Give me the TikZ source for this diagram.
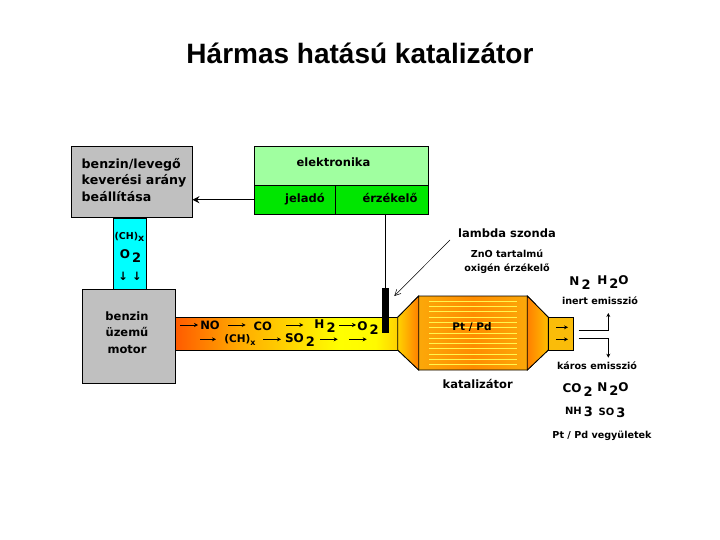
\documentclass[tikz,border=0pt]{standalone}
\usepackage{fontspec}
\setmainfont[UprightFont=* Bold]{DejaVu Sans}
\newfontfamily\titlefont{Liberation Sans}
\usetikzlibrary{arrows.meta}
\definecolor{boxgray}{RGB}{192,192,192}
\definecolor{cyanfill}{RGB}{0,255,255}
\definecolor{lightgreen}{RGB}{160,255,160}
\definecolor{puregreen}{RGB}{0,230,0}
\pgfdeclarehorizontalshading{pipeshade}{100bp}{
  rgb(0bp)=(1,0.36,0); rgb(25bp)=(1,0.36,0); rgb(40bp)=(1,0.68,0);
  rgb(62bp)=(1,1,0); rgb(70bp)=(1,0.98,0); rgb(75bp)=(1,0.82,0); rgb(100bp)=(1,0.82,0)}
\pgfdeclarehorizontalshading{mainshade}{100bp}{
  rgb(0bp)=(0.98,0.70,0.05); rgb(25bp)=(0.98,0.70,0.05); rgb(50bp)=(1,0.55,0);
  rgb(75bp)=(0.98,0.70,0.05); rgb(100bp)=(0.98,0.70,0.05)}
\newcommand{\dnum}[1]{\raisebox{-0.5ex}{\kern2pt\fontsize{13}{13}\selectfont #1}}
\tikzset{
  x=1pt,y=-1pt,
  panel/.style={draw=black,line width=0.8pt},
  lbl/.style={font=\fontsize{11.5}{14}\selectfont,inner sep=0pt,align=center},
  big/.style={font=\fontsize{12}{15}\selectfont,inner sep=0pt,align=center},
  small/.style={font=\fontsize{9.6}{13}\selectfont,inner sep=0pt,align=center},
  heavy/.style={line width=1.5pt,-{Stealth[length=7pt,width=7pt]}},
  flow/.style={line width=0.9pt,-{Stealth[length=4pt,width=4pt]}},
  fine/.style={line width=0.5pt,-{Straight Barb[length=6pt,width=6pt]}},
  plainline/.style={line width=0.9pt},
}
\begin{document}
\begin{tikzpicture}
\useasboundingbox (0,0) rectangle (720,540);
\fill[white] (0,0) rectangle (720,540);
\node[inner sep=0pt,font=\titlefont\bfseries\fontsize{28}{32}\selectfont] (title) at (360,53) {Hármas hatású katalizátor};

% cyan duct, then grey boxes
\draw[panel,fill=cyanfill] (113.5,218) rectangle (146.5,290);
\node[panel,fill=boxgray,minimum width=121pt,minimum height=71pt,inner sep=0pt] (mix) at (131.5,181.5) {};
\node[big,anchor=west,font=\fontsize{12.6}{16.5}\selectfont,align=left] (mixt) at (81.5,180) {benzin/levegő\\keverési arány\\beállítása};
\node[panel,fill=boxgray,minimum width=93pt,minimum height=94pt,inner sep=0pt] (motor) at (129.2,336.3) {};
\node[lbl,font=\fontsize{11.5}{16.5}\selectfont] (motort) at (127,332.5) {benzin\\üzemű\\motor};
\node[lbl,font=\fontsize{9.5}{12}\selectfont] (chx) at (129.5,237) {(CH)\raisebox{-0.4ex}{x}};
\node[big] (o2a) at (130.5,256) {O\dnum{2}};
\node[lbl] (arrs) at (130,276) {↓ ↓};

% electronics
\node[panel,fill=lightgreen,minimum width=174.4pt,minimum height=38.6pt,inner sep=0pt] (elec) at (341.5,166) {};
\node[panel,fill=puregreen,minimum width=81pt,minimum height=28.7pt,inner sep=0pt] (jel) at (294.8,199.7) {};
\node[panel,fill=puregreen,minimum width=93.4pt,minimum height=28.7pt,inner sep=0pt] (erz) at (382,199.7) {};
\node[lbl] at (333.5,162) (elect) {elektronika};
\node[lbl] at (305,199) (jelt) {jeladó};
\node[lbl] at (390,198) (erzt) {érzékelő};
\draw[heavy] (jel.west) -- (jel.west -| mix.east);
\coordinate (probetop) at (385.5,288);
\draw[plainline] (385.5,214) -- (probetop);

% exhaust
\node[panel,fill=none,minimum width=222pt,minimum height=33pt,inner sep=0pt,shading=pipeshade,shading angle=0] (pipe) at (286.7,333.7) {};
\draw[panel,shading=mainshade,shading angle=0] (397.7,317.3) -- (418.7,296) -- (527.3,296) -- (548.3,317.3) -- (548.3,350) -- (527.3,370) -- (418.7,370) -- (397.7,350) -- cycle;
\draw[panel,left color=yellow!65!orange,right color=orange] (397.7,317.3) -- (418.7,296) -- (418.7,370) -- (397.7,350) -- cycle;
\draw[panel,left color=orange,right color=yellow!50!orange] (527.3,296) -- (548.3,317.3) -- (548.3,350) -- (527.3,370) -- cycle;
\foreach \yy in {301,306.3,311.6,316.9,322.2,327.5,332.8,338.1,343.4,348.7,354,359.3,364.6}
  \draw[yellow!70!white,line width=0.5pt] (429,\yy) -- (517,\yy);
\node[panel,fill=yellow!50!orange,minimum width=25.4pt,minimum height=32.7pt,inner sep=0pt] (out) at (561,333.7) {};
\node[draw=none,fill=black,minimum width=7pt,minimum height=44.7pt,inner sep=0pt] (probe) at (385.5,310.4) {};

\foreach \n/\xa/\xb/\yy in {a/180/198/325,b/228/245.7/325,c/286/303.3/325,d/339/356/325,e/200/216/339.3,f/263.3/281/339.3,g/320/337.7/339.3,h/349.3/366.7/339.3,i/556/568/327.3,j/556/568/339.3}{
  \coordinate (s\n) at (\xa,\yy);
  \coordinate (t\n) at (\xb,\yy);
  \draw[flow] (s\n) -- (t\n);
}
\node[lbl] (no) at (210,325.5) {NO};
\node[lbl] (co) at (262.7,326) {CO};
\node[big] (h2) at (325,326) {H\dnum{2}};
\node[big] (o2b) at (368,328) {O\dnum{2}};
\node[lbl,font=\fontsize{10.5}{14}\selectfont] (chb) at (240,340) {(CH)\raisebox{-0.4ex}{\fontsize{8}{8}\selectfont x}};
\node[big] (so2) at (300,340) {SO\dnum{2}};

\node[lbl,font=\fontsize{10.5}{13}\selectfont] (ptpd) at (472,327) {Pt / Pd};
\node[lbl] (kat) at (477.7,384) {katalizátor};

\node[lbl] (lam) at (507,233) {lambda szonda};
\node[small] (zno) at (507,253.5) {ZnO tartalmú};
\node[small] (oxi) at (507,269) {oxigén érzékelő};
\coordinate (lamstart) at (450,240);
\draw[fine] (lamstart) -- (394.3,296);

\node[big] (n2a) at (580,283) {N\dnum{2}};
\node[big] (h2o) at (613,282) {H\dnum{2}O};
\node[small] (inert) at (600,301) {inert emisszió};
\node[small] (karos) at (597,366) {káros emisszió};
\node[big] (co2) at (577.7,390) {CO\dnum{2}};
\node[big] (n2o) at (613,389) {N\dnum{2}O};
\node[small,font=\fontsize{10}{13}\selectfont] (nh3) at (579,412) {NH\dnum{3}};
\node[small,font=\fontsize{10}{13}\selectfont] (so3) at (612,413) {SO\dnum{3}};
\node[small] (veg) at (602,436) {Pt / Pd vegyületek};

\coordinate (ua) at (578.7,330);
\coordinate (ub) at (608.3,330);
\coordinate (uc) at (608.3,313);
\coordinate (da) at (578.7,338.3);
\coordinate (db) at (608.3,338.3);
\coordinate (dc) at (608.3,357.7);
\draw[flow] (ua) -- (ub) -- (uc);
\draw[flow] (da) -- (db) -- (dc);
\end{tikzpicture}
\end{document}
